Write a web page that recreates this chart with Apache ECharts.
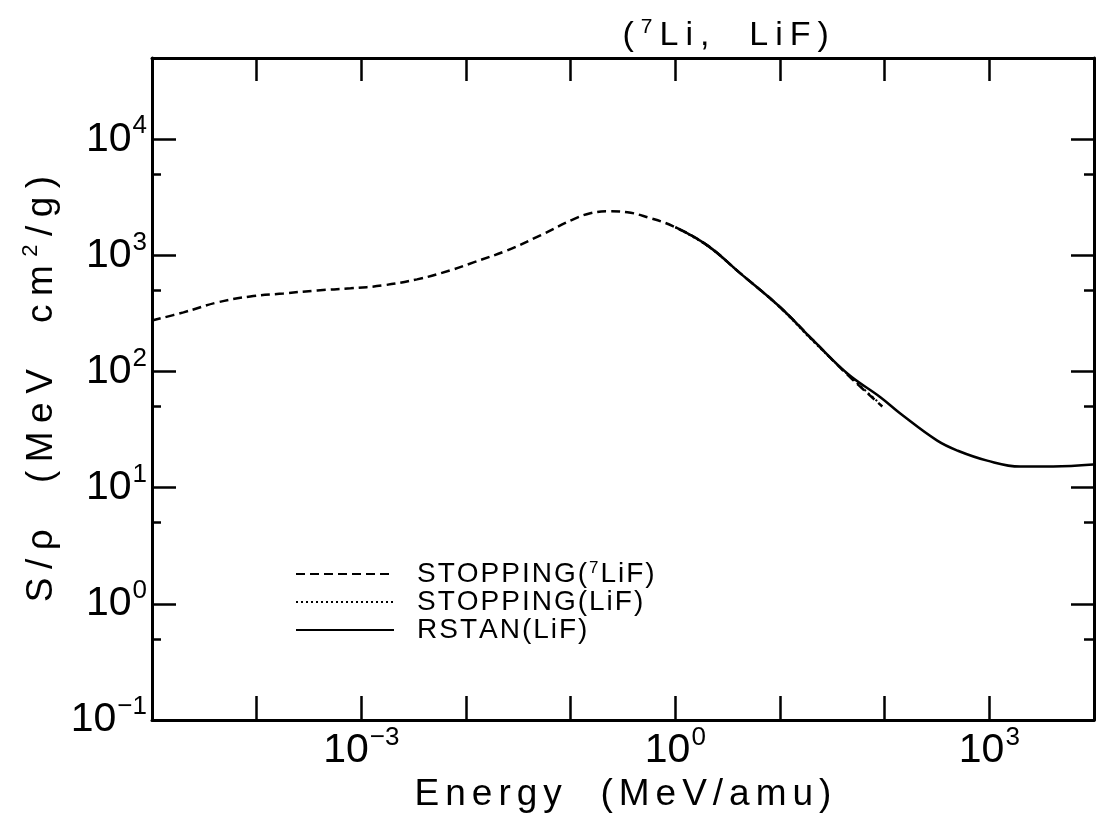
<!DOCTYPE html>
<html>
<head>
<meta charset="utf-8">
<script src="https://cdn.jsdelivr.net/npm/echarts@6/dist/echarts.min.js"></script>
<style>
  html, body { margin: 0; padding: 0; background: #fff; }
  #main { width: 1097px; height: 831px; }
</style>
</head>
<body>
<div id="main"></div>
<script>
// axis ranges and ticks
var xMin = 1e-5, xMax = 1e4;
var yMin = 0.1, yMax = 5e4;
var xTicks = [1e-5, 1e-4, 1e-3, 1e-2, 1e-1, 1, 10, 100, 1e3, 1e4];
var xLabels = [1e-3, 1, 1e3];
var yTicks = [0.1, 1, 10, 100, 1e3, 1e4];
var yMinorTicks = [0.5, 5, 50, 500, 5000];

// series: [energy MeV/amu, S/rho MeV cm2/g]
var stopping7LiF = [
  [1e-5, 275], [2e-5, 323], [4.2e-5, 393], [8.7e-5, 443], [1.8e-4, 470],
  [3.8e-4, 499], [7.9e-4, 520], [1.6e-3, 551], [3.4e-3, 621], [7.1e-3, 743],
  [0.0118, 870], [0.0248, 1105], [0.0514, 1487], [0.106, 2043], [0.154, 2303],
  [0.224, 2395], [0.348, 2350], [0.541, 2127], [0.957, 1778], [2.02, 1219],
  [4.18, 700], [10.1, 356], [20.8, 185], [44, 94], [95, 50]
];
var stoppingLiF = [
  [1, 1740], [2, 1215], [4.2, 698], [10, 355], [20, 188], [44, 95], [88, 54]
];
var rstanLiF = [
  [1, 1750], [2.02, 1219], [4.18, 700], [10.1, 356], [20.8, 185], [44, 96],
  [91, 60], [141, 43.5], [318, 25.4], [500, 20.8], [955, 17.1], [1970, 15.2],
  [4070, 15.2], [9800, 15.8]
];

var FONT = 'Liberation Sans';
var SUP = { '⁷': '7', '²': '2' };

// wrap every character in a rich token so the letters get some spacing
function spaced(text, key) {
  var out = '';
  for (var ch of text) {
    if (SUP[ch]) out += '{' + key + 'Sup|' + SUP[ch] + '}';
    else out += '{' + key + '|' + ch + '}';
  }
  return out;
}
function richPair(key, size, supSize, gap, lh) {
  var r = {};
  r[key] = { fontFamily: FONT, fontSize: size, fontWeight: 'normal', color: '#000', lineHeight: lh, padding: [0, gap / 2, 0, gap / 2] };
  r[key + 'Sup'] = { fontFamily: FONT, fontSize: supSize, fontWeight: 'normal', color: '#000', lineHeight: supSize, verticalAlign: 'top', padding: [0, gap / 2, 0, gap / 2] };
  return r;
}

function powLabel(v) {
  var e = Math.round(Math.log10(v));
  return '{b|10}{s|' + (e < 0 ? '−' + (-e) : e) + '}';
}
var powRich = {
  b: { fontFamily: FONT, fontSize: 41, lineHeight: 52, color: '#000', padding: [0, 1, 0, 0] },
  s: { fontFamily: FONT, fontSize: 26, lineHeight: 26, color: '#000', verticalAlign: 'top' }
};

var axisLine = { show: true, lineStyle: { color: '#000', width: 3 } };

var chart = echarts.init(document.getElementById('main'));

var option = {
  backgroundColor: '#fff',
  animation: false,
  color: ['#000', '#000', '#000'],
  title: {
    text: spaced('(⁷Li,  LiF)', 't'),
    left: 614,
    top: 12,
    textStyle: { fontWeight: 'normal', rich: richPair('t', 34, 21, 7, 38) }
  },
  legend: {
    orient: 'vertical',
    left: 290,
    top: 555,
    itemWidth: 98,
    itemHeight: 14,
    itemGap: 0,
    selectedMode: false,
    itemStyle: { opacity: 0 },
    data: ['STOPPING(⁷LiF)', 'STOPPING(LiF)', 'RSTAN(LiF)'],
    formatter: function (name) { return spaced(name, 'l'); },
    textStyle: { padding: [0, 0, 0, 17], rich: richPair('l', 28, 17, 2, 28) }
  },
  grid: {
    left: 152, right: 3, top: 58, bottom: 111,
    containLabel: false,
    outerBoundsMode: 'none'
  },
  xAxis: [
    {
      type: 'log', logBase: 10, min: xMin, max: xMax, position: 'bottom',
      axisLine: axisLine,
      splitLine: { show: false },
      axisTick: { inside: true, length: 24, customValues: xTicks, lineStyle: { color: '#000', width: 2.5 } },
      axisLabel: { customValues: xLabels, margin: 5, formatter: powLabel, rich: powRich },
      name: spaced('Energy  (MeV/amu)', 'n'),
      nameLocation: 'middle',
      nameGap: 52,
      nameTextStyle: { rich: richPair('n', 37, 22, 6, 42) }
    },
    {
      type: 'log', logBase: 10, min: xMin, max: xMax, position: 'top',
      axisLine: axisLine,
      splitLine: { show: false },
      axisTick: { inside: true, length: 23, customValues: xTicks, lineStyle: { color: '#000', width: 2.5 } },
      axisLabel: { show: false }
    }
  ],
  yAxis: [
    {
      type: 'log', logBase: 10, min: yMin, max: yMax, position: 'left',
      axisLine: axisLine,
      splitLine: { show: false },
      axisTick: { inside: true, length: 24, customValues: yTicks, lineStyle: { color: '#000', width: 2.5 } },
      axisLabel: { customValues: yTicks, margin: 5, formatter: powLabel, rich: powRich },
      name: spaced('S/ρ  (MeV  cm²/g)', 'n'),
      nameLocation: 'middle',
      nameRotate: 90,
      nameGap: 84,
      nameTextStyle: { rich: richPair('n', 37, 22, 8.5, 42) }
    },
    {
      type: 'log', logBase: 10, min: yMin, max: yMax, position: 'right',
      axisLine: axisLine,
      splitLine: { show: false },
      axisTick: { inside: true, length: 23, customValues: yTicks, lineStyle: { color: '#000', width: 2.5 } },
      axisLabel: { show: false }
    },
    {
      type: 'log', logBase: 10, min: yMin, max: yMax, position: 'left',
      axisLine: { show: false },
      splitLine: { show: false },
      axisTick: { inside: true, length: 9, customValues: yMinorTicks, lineStyle: { color: '#000', width: 2.5 } },
      axisLabel: { show: false }
    },
    {
      type: 'log', logBase: 10, min: yMin, max: yMax, position: 'right',
      axisLine: { show: false },
      splitLine: { show: false },
      axisTick: { inside: true, length: 10, customValues: yMinorTicks, lineStyle: { color: '#000', width: 2.5 } },
      axisLabel: { show: false }
    }
  ],
  series: [
    {
      name: 'STOPPING(⁷LiF)', type: 'line', data: stopping7LiF,
      showSymbol: false, symbol: 'none', smooth: 0.4,
      itemStyle: { color: '#000' },
      lineStyle: { color: '#000', width: 2.5, type: [9, 5] }
    },
    {
      name: 'STOPPING(LiF)', type: 'line', data: stoppingLiF,
      showSymbol: false, symbol: 'none', smooth: 0.4,
      itemStyle: { color: '#000' },
      lineStyle: { color: '#000', width: 2, type: [2, 3] }
    },
    {
      name: 'RSTAN(LiF)', type: 'line', data: rstanLiF,
      showSymbol: false, symbol: 'none', smooth: 0.4,
      itemStyle: { color: '#000' },
      lineStyle: { color: '#000', width: 2.5, type: 'solid' }
    }
  ]
};

chart.setOption(option);
window.addEventListener('resize', function () { chart.resize(); });
</script>
</body>
</html>
